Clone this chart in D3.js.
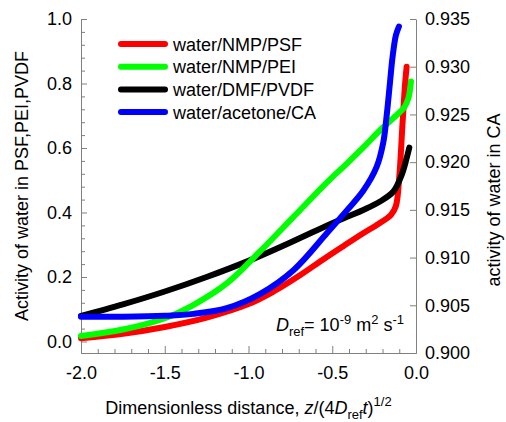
<!DOCTYPE html>
<html>
<head>
<meta charset="utf-8">
<script src="https://cdn.jsdelivr.net/npm/d3@7"></script>
<style>
  html, body { margin: 0; padding: 0; background: #fff; }
  svg { display: block; }
  text { font-family: Arial, "Liberation Sans", sans-serif; fill: #000; }
</style>
</head>
<body>
<svg id="chart" width="506" height="422"></svg>
<script>
// Dimensionless distance z/(4 D_ref t)^1/2 and water activity for each system
const seriesNames = ["water/NMP/PSF", "water/NMP/PEI", "water/DMF/PVDF", "water/acetone/CA"];

const zPSF = [-2.0, -1.75, -1.5, -1.25, -1.0, -0.85, -0.7, -0.55, -0.43, -0.32, -0.22, -0.15, -0.12, -0.10, -0.08, -0.065, -0.056];
const aPSF = [0.010, 0.024, 0.045, 0.074, 0.116, 0.155, 0.203, 0.256, 0.297, 0.334, 0.366, 0.392, 0.420, 0.510, 0.680, 0.800, 0.852];

const zPEI = [-2.0, -1.75, -1.5, -1.33, -1.13, -0.93, -0.73, -0.53, -0.41, -0.31, -0.215, -0.12, -0.07, -0.045, -0.03];
const aPEI = [0.017, 0.037, 0.072, 0.113, 0.180, 0.280, 0.387, 0.494, 0.553, 0.604, 0.655, 0.700, 0.726, 0.755, 0.806];

const zPVDF = [-2.0, -1.75, -1.5, -1.25, -1.0, -0.75, -0.5, -0.4, -0.315, -0.215, -0.135, -0.086, -0.056, -0.04];
const aPVDF = [0.079, 0.115, 0.155, 0.200, 0.250, 0.307, 0.367, 0.389, 0.408, 0.434, 0.465, 0.516, 0.568, 0.601];

// CA is read against the right-hand axis
const zCA = [-2.0, -1.75, -1.5, -1.33, -1.13, -0.93, -0.73, -0.53, -0.41, -0.315, -0.235, -0.195, -0.175, -0.155, -0.14, -0.12, -0.102];
const aCA = [0.9038, 0.9038, 0.9039, 0.9041, 0.9047, 0.9062, 0.9087, 0.9126, 0.9150, 0.9170, 0.9195, 0.9221, 0.9249, 0.9284, 0.9310, 0.9333, 0.9342];

const zTicks = [-2.0, -1.5, -1.0, -0.5, 0.0];
const leftTicks = [0.0, 0.2, 0.4, 0.6, 0.8, 1.0];
const rightTicks = [0.900, 0.905, 0.910, 0.915, 0.920, 0.925, 0.930, 0.935];

const seriesColors = ["#ff0000", "#00ff00", "#000000", "#0000ff"];

const svg = d3.select("#chart");
const L = 81, R = 416, T = 19, B = 353;
const axisColor = "#808080";

const x = d3.scaleLinear().domain([-2, 0]).range([L, R]);
const yL = d3.scaleLinear().domain([-0.0357, 1.0]).range([B, T]);
const yR = d3.scaleLinear().domain([0.900, 0.935]).range([B, T]);

function styleAxis(g) {
  g.selectAll(".domain").attr("stroke", axisColor).attr("stroke-width", 1);
  g.selectAll(".tick line").attr("stroke", axisColor).attr("stroke-width", 1);
  g.selectAll(".tick text").attr("font-size", 18).attr("font-family", "Arial, 'Liberation Sans', sans-serif").attr("fill", "#000");
}

// minor ticks
const minorZ = d3.range(-20, 1).map(i => i / 10).filter(v => !zTicks.some(t => Math.abs(t - v) < 1e-9));
const minorL = d3.range(0, 26).map(i => i * 0.04).filter(v => !leftTicks.some(t => Math.abs(t - v) < 1e-9));

svg.append("g").attr("transform", `translate(0,${B})`)
  .call(d3.axisBottom(x).tickValues(minorZ).tickSize(-4).tickSizeOuter(0).tickFormat(""))
  .call(styleAxis);
svg.append("g").attr("transform", `translate(${L},0)`)
  .call(d3.axisLeft(yL).tickValues(minorL).tickSize(-4).tickSizeOuter(0).tickFormat(""))
  .call(styleAxis);

// major axes
svg.append("g").attr("transform", `translate(0,${B})`)
  .call(d3.axisBottom(x).tickValues(zTicks).tickSize(-7).tickSizeOuter(0).tickPadding(13).tickFormat(d => d.toFixed(1)))
  .call(styleAxis);
svg.append("g").attr("transform", `translate(${L},0)`)
  .call(d3.axisLeft(yL).tickValues(leftTicks).tickSize(-6).tickSizeOuter(0).tickPadding(9).tickFormat(d => d.toFixed(1)))
  .call(styleAxis);
svg.append("g").attr("transform", `translate(${R},0)`)
  .call(d3.axisRight(yR).tickValues(rightTicks).tickSize(-6).tickSizeOuter(0).tickPadding(9).tickFormat(d => d.toFixed(3)))
  .call(styleAxis);

// curves: drawn bottom to top as PSF, PVDF, PEI, CA
const seriesData = [
  { z: zPSF, a: aPSF, y: yL, color: seriesColors[0] },
  { z: zPEI, a: aPEI, y: yL, color: seriesColors[1] },
  { z: zPVDF, a: aPVDF, y: yL, color: seriesColors[2] },
  { z: zCA, a: aCA, y: yR, color: seriesColors[3] }
];
const drawOrder = [0, 2, 1, 3];
drawOrder.forEach(i => {
  const s = seriesData[i];
  const pts = s.z.map((z, k) => [z, s.a[k]]);
  const line = d3.line().x(d => x(d[0])).y(d => s.y(d[1])).curve(d3.curveCatmullRom.alpha(0.5));
  svg.append("path").datum(pts)
    .attr("d", line)
    .attr("fill", "none")
    .attr("stroke", s.color)
    .attr("stroke-width", 6)
    .attr("stroke-linecap", "round")
    .attr("stroke-linejoin", "round");
});

// legend
const legend = svg.append("g");
seriesNames.forEach((name, i) => {
  const yy = 44 + i * 22.7;
  legend.append("line").attr("x1", 121).attr("x2", 165).attr("y1", yy).attr("y2", yy)
    .attr("stroke", seriesColors[i]).attr("stroke-width", 6).attr("stroke-linecap", "round");
  legend.append("text").attr("x", 173).attr("y", yy + 6.5).attr("font-size", 18).text(name);
});

// reference diffusivity note
const note = svg.append("text").attr("x", 404).attr("y", 331).attr("text-anchor", "end").attr("font-size", 18);
note.append("tspan").attr("font-style", "italic").text("D");
note.append("tspan").attr("font-size", 13).attr("dy", 5).text("ref");
note.append("tspan").attr("dy", -5).text("= 10");
note.append("tspan").attr("font-size", 13).attr("dy", -7).text("-9");
note.append("tspan").attr("dy", 7).text(" m");
note.append("tspan").attr("font-size", 13).attr("dy", -7).text("2");
note.append("tspan").attr("dy", 7).text(" s");
note.append("tspan").attr("font-size", 13).attr("dy", -7).text("-1");

// axis titles
const xt = svg.append("text").attr("x", (L + R) / 2).attr("y", 414).attr("text-anchor", "middle").attr("font-size", 18);
xt.append("tspan").text("Dimensionless distance, ");
xt.append("tspan").attr("font-style", "italic").text("z");
xt.append("tspan").text("/(4");
xt.append("tspan").attr("font-style", "italic").text("D");
xt.append("tspan").attr("font-size", 13).attr("dy", 5).text("ref");
xt.append("tspan").attr("font-style", "italic").attr("dy", -5).text("t");
xt.append("tspan").text(")");
xt.append("tspan").attr("font-size", 13).attr("dy", -8).text("1/2");

svg.append("text").attr("transform", `translate(28,${(T + B) / 2}) rotate(-90)`)
  .attr("text-anchor", "middle").attr("font-size", 18)
  .text("Activity of water in PSF,PEI,PVDF");

svg.append("text").attr("transform", `translate(500,200) rotate(-90)`)
  .attr("text-anchor", "middle").attr("font-size", 18)
  .text("activity of water in CA");
</script>
</body>
</html>
